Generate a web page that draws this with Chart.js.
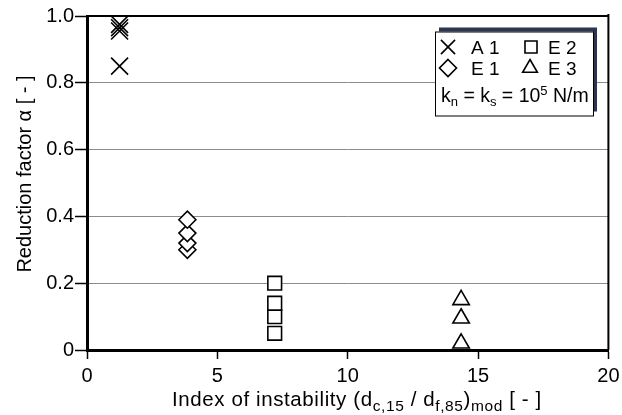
<!DOCTYPE html>
<html>
<head>
<meta charset="utf-8">
<script src="https://cdn.jsdelivr.net/npm/chart.js@4.4.1/dist/chart.umd.min.js"></script>
<style>
  html, body { margin: 0; padding: 0; background: #fff; }
  #wrap { width: 622px; height: 415px; }
</style>
</head>
<body>
<div id="wrap"><canvas id="chart" width="622" height="415"></canvas></div>
<script>
// measured series: index of instability vs. reduction factor
const seriesNames = ['A 1', 'E 1', 'E 2', 'E 3'];
const a1X = [1.25, 1.25, 1.25, 1.25];
const a1Y = [0.85, 0.955, 0.965, 0.975];
const e1X = [3.85, 3.85, 3.85, 3.85];
const e1Y = [0.30, 0.32, 0.35, 0.39];
const e2X = [7.2, 7.2, 7.2, 7.2];
const e2Y = [0.05, 0.10, 0.14, 0.20];
const e3X = [14.35, 14.35, 14.35];
const e3Y = [0.02, 0.095, 0.15];
const xTicks = [0, 5, 10, 15, 20];
const yTicks = [0, 0.2, 0.4, 0.6, 0.8, 1.0];

const FONT = 'Liberation Sans, Arial, sans-serif';

function toPoints(xs, ys) {
  return xs.map((x, i) => ({ x: x, y: ys[i] }));
}

const markers = [
  { style: 'crossRot', radius: 12, legendRadius: 10 },
  { style: 'rectRot', radius: 8.5, legendRadius: 8.5 },
  { style: 'rect', radius: 9.7, legendRadius: 8.5 },
  { style: 'triangle', radius: 9.5, legendRadius: 8.5 }
];

const seriesPoints = [
  toPoints(a1X, a1Y),
  toPoints(e1X, e1Y),
  toPoints(e2X, e2Y),
  toPoints(e3X, e3Y)
];

const datasets = seriesNames.map((name, i) => ({
  label: name,
  data: seriesPoints[i],
  pointStyle: markers[i].style,
  pointRadius: markers[i].radius,
  pointBorderWidth: 1.6,
  pointBorderColor: '#000',
  pointBackgroundColor: '#fff',
  showLine: false
}));

// small marker painter for the legend box
function drawMarker(ctx, style, x, y, r) {
  ctx.beginPath();
  if (style === 'crossRot') {
    const d = r * Math.SQRT1_2;
    ctx.moveTo(x - d, y - d); ctx.lineTo(x + d, y + d);
    ctx.moveTo(x - d, y + d); ctx.lineTo(x + d, y - d);
    ctx.stroke();
    return;
  }
  if (style === 'rectRot') {
    ctx.moveTo(x, y - r); ctx.lineTo(x + r, y); ctx.lineTo(x, y + r); ctx.lineTo(x - r, y);
  } else if (style === 'rect') {
    const s = r * Math.SQRT1_2;
    ctx.rect(x - s, y - s, 2 * s, 2 * s);
  } else if (style === 'triangle') {
    ctx.moveTo(x, y - r);
    ctx.lineTo(x + r * Math.sin(Math.PI / 3), y + r / 2);
    ctx.lineTo(x - r * Math.sin(Math.PI / 3), y + r / 2);
  }
  ctx.closePath();
  ctx.fillStyle = '#fff';
  ctx.fill();
  ctx.stroke();
}

// text made of runs with sub/superscripts
function drawRuns(ctx, x, y, runs) {
  let cx = x;
  runs.forEach(run => {
    ctx.font = run.size + 'px ' + FONT;
    ctx.fillText(run.t, cx, y + (run.dy || 0));
    cx += ctx.measureText(run.t).width;
  });
  return cx;
}

const decorations = {
  id: 'decorations',
  afterDraw(chart) {
    const ctx = chart.ctx;
    const area = chart.chartArea;
    ctx.save();

    // frame on top and right
    ctx.strokeStyle = '#000';
    ctx.lineWidth = 2;
    ctx.beginPath();
    ctx.moveTo(area.left, area.top);
    ctx.lineTo(area.right, area.top);
    ctx.moveTo(area.right, area.top - 2);
    ctx.lineTo(area.right, area.bottom);
    ctx.stroke();

    ctx.fillStyle = '#000';
    ctx.textAlign = 'left';
    ctx.textBaseline = 'alphabetic';

    // x axis title
    ctx.letterSpacing = '0.6px';
    drawRuns(ctx, 172, 406, [
      { t: 'Index of instability (d', size: 20.5 },
      { t: 'c,15', size: 15.5, dy: 5 },
      { t: ' / d', size: 20.5 },
      { t: 'f,85', size: 15.5, dy: 5 },
      { t: ')', size: 20.5 },
      { t: 'mod', size: 15.5, dy: 5 },
      { t: ' [ - ]', size: 20.5 }
    ]);
    ctx.letterSpacing = '0px';

    // y axis title
    ctx.save();
    ctx.translate(31, 174);
    ctx.rotate(-Math.PI / 2);
    ctx.textAlign = 'center';
    ctx.font = '20px ' + FONT;
    ctx.fillText('Reduction factor \u03b1 [ - ]', 0, 0);
    ctx.restore();

    // legend box with shadow
    const bx = 435, by = 31.5, bw = 158, bh = 84;
    ctx.fillStyle = '#2b3550';
    ctx.fillRect(bx + 4, by - 4, bw, bh);
    ctx.fillStyle = '#fff';
    ctx.fillRect(bx, by, bw, bh);
    ctx.strokeStyle = '#000';
    ctx.lineWidth = 1;
    ctx.strokeRect(bx + 0.5, by + 0.5, bw, bh);

    const slots = [
      { mx: 448, tx: 471, y: 47 },
      { mx: 448, tx: 471, y: 68 },
      { mx: 531, tx: 548, y: 47 },
      { mx: 530, tx: 548, y: 68 }
    ];
    ctx.lineWidth = 1.6;
    chart.data.datasets.forEach((ds, i) => {
      const s = slots[i];
      ctx.strokeStyle = '#000';
      drawMarker(ctx, markers[i].style, s.mx, s.y, markers[i].legendRadius);
      ctx.fillStyle = '#000';
      ctx.font = '19px ' + FONT;
      ctx.fillText(ds.label, s.tx, s.y + 7);
    });

    ctx.fillStyle = '#000';
    drawRuns(ctx, 441, 102, [
      { t: 'k', size: 19.5 },
      { t: 'n', size: 13, dy: 4 },
      { t: ' = k', size: 19.5 },
      { t: 's', size: 13, dy: 4 },
      { t: ' = 10', size: 19.5 },
      { t: '5', size: 13, dy: -7 },
      { t: ' N/m', size: 19.5 }
    ]);

    ctx.restore();
  }
};

new Chart(document.getElementById('chart'), {
  type: 'scatter',
  data: { datasets: datasets },
  options: {
    responsive: false,
    animation: false,
    layout: { padding: { top: 16, right: 11, left: 0, bottom: 0 } },
    plugins: {
      legend: { display: false },
      tooltip: { enabled: false }
    },
    scales: {
      x: {
        type: 'linear',
        min: xTicks[0],
        max: xTicks[xTicks.length - 1],
        afterBuildTicks: scale => { scale.ticks = xTicks.map(v => ({ value: v })); },
        afterFit: scale => {
          scale.height = 65;
          scale.paddingLeft = 0;
          scale.paddingRight = 0;
        },
        ticks: {
          color: '#000',
          font: { family: FONT, size: 20 },
          padding: 5,
          maxRotation: 0
        },
        grid: {
          drawOnChartArea: false,
          drawTicks: true,
          tickLength: 9,
          tickColor: '#000',
          tickWidth: 1.5
        },
        border: { color: '#000', width: 3 }
      },
      y: {
        type: 'linear',
        min: yTicks[0],
        max: yTicks[yTicks.length - 1],
        afterBuildTicks: scale => { scale.ticks = yTicks.map(v => ({ value: v })); },
        afterFit: scale => {
          scale.width = 87;
          scale.paddingTop = 0;
          scale.paddingBottom = 0;
        },
        ticks: {
          color: '#000',
          font: { family: FONT, size: 20 },
          padding: 1,
          callback: v => (v === 0 ? '0' : v.toFixed(1))
        },
        grid: {
          color: c => (c.tick && c.tick.value === 1 ? '#000' : '#8c8c8c'),
          lineWidth: 1,
          tickLength: 12,
          tickColor: '#000',
          tickWidth: 1.5
        },
        border: { color: '#000', width: 3 }
      }
    }
  },
  plugins: [decorations]
});
</script>
</body>
</html>
